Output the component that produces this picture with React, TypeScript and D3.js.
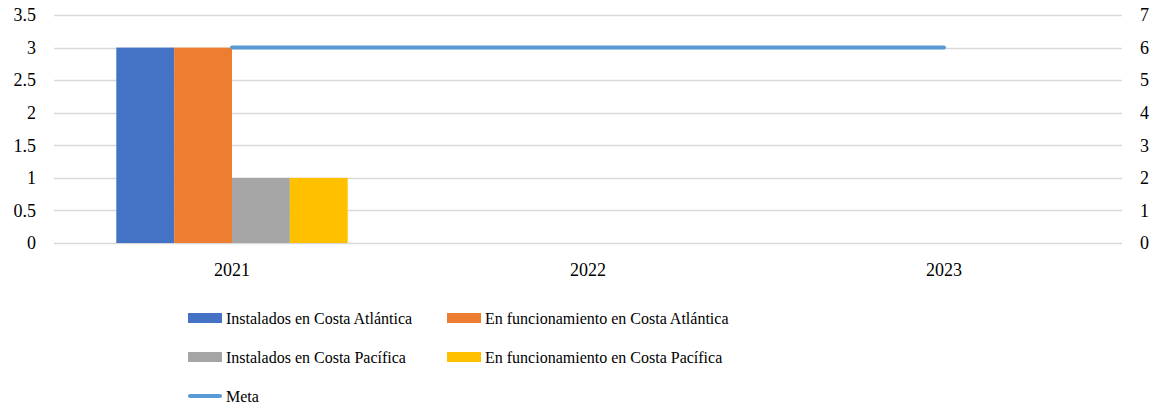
import React, { useEffect, useRef } from 'react';
import * as d3 from 'd3';

const years = ['2021', '2022', '2023'];
const seriesNames = [
  'Instalados en Costa Atlántica',
  'En funcionamiento en Costa Atlántica',
  'Instalados en Costa Pacífica',
  'En funcionamiento en Costa Pacífica',
];
const seriesColors = ['#4472C4', '#ED7D31', '#A5A5A5', '#FFC000'];
// values per series, per year (only 2021 has data)
const instaladosAtlantica = [3, null, null];
const funcionamientoAtlantica = [3, null, null];
const instaladosPacifica = [1, null, null];
const funcionamientoPacifica = [1, null, null];
const meta = [6, 6, 6];
const leftTicks = [0, 0.5, 1, 1.5, 2, 2.5, 3, 3.5];
const rightTicks = [0, 1, 2, 3, 4, 5, 6, 7];

const App = () => {
  const svgRef = useRef<SVGSVGElement>(null);

  useEffect(() => {
    const W = 1156;
    const H = 409;
    const svg = d3.select(svgRef.current);
    svg.selectAll('*').remove();
    svg.attr('width', W).attr('height', H)
      .style('font-family', "'Liberation Serif', 'Times New Roman', serif")
      .style('font-size', '18px');

    const left = 54, right = 1122, top = 15, bottom = 243;

    const x = d3.scaleBand().domain(years).range([left, right]).paddingInner(0).paddingOuter(0);
    const yL = d3.scaleLinear().domain([0, 3.5]).range([bottom, top]);
    const yR = d3.scaleLinear().domain([0, 7]).range([bottom, top]);

    // Gridlines
    svg.append('g')
      .selectAll('line')
      .data(leftTicks)
      .enter()
      .append('line')
      .attr('x1', left)
      .attr('x2', right)
      .attr('y1', d => Math.round(yL(d)) + 0.5)
      .attr('y2', d => Math.round(yL(d)) + 0.5)
      .attr('stroke', '#d9d9d9')
      .attr('stroke-width', 1.5);

    // Bars
    const allSeries = [instaladosAtlantica, funcionamientoAtlantica, instaladosPacifica, funcionamientoPacifica];
    const groupWidth = x.bandwidth() * 0.65;
    const x1 = d3.scaleBand().domain(seriesNames).range([0, groupWidth]).padding(0);

    allSeries.forEach((vals, si) => {
      svg.append('g')
        .selectAll('rect')
        .data(years.map((yr, i) => ({ yr, v: vals[i] })).filter(d => d.v != null))
        .enter()
        .append('rect')
        .attr('x', d => x(d.yr)! + (x.bandwidth() - groupWidth) / 2 + x1(seriesNames[si])!)
        .attr('y', d => yL(d.v as number))
        .attr('width', x1.bandwidth())
        .attr('height', d => bottom - yL(d.v as number))
        .attr('fill', seriesColors[si]);
    });

    // Meta line (secondary axis)
    const line = d3.line<number>()
      .x((_, i) => x(years[i])! + x.bandwidth() / 2)
      .y(d => yR(d));
    svg.append('path')
      .datum(meta)
      .attr('d', line)
      .attr('fill', 'none')
      .attr('stroke', '#5B9BD5')
      .attr('stroke-width', 4)
      .attr('stroke-linecap', 'round');

    // Left axis labels
    svg.append('g')
      .selectAll('text')
      .data(leftTicks)
      .enter()
      .append('text')
      .attr('x', 36)
      .attr('y', d => yL(d))
      .attr('dy', '0.35em')
      .attr('text-anchor', 'end')
      .attr('fill', '#000')
      .text(d => String(d));

    // Right axis labels
    svg.append('g')
      .selectAll('text')
      .data(rightTicks)
      .enter()
      .append('text')
      .attr('x', 1140)
      .attr('y', d => yR(d))
      .attr('dy', '0.35em')
      .attr('text-anchor', 'start')
      .attr('fill', '#000')
      .text(d => String(d));

    // Category labels
    svg.append('g')
      .selectAll('text')
      .data(years)
      .enter()
      .append('text')
      .attr('x', d => x(d)! + x.bandwidth() / 2)
      .attr('y', 270)
      .attr('dy', '0.35em')
      .attr('text-anchor', 'middle')
      .text(d => d);

    // Legend
    const legendItems = [
      { name: seriesNames[0], color: seriesColors[0], x: 188, y: 318, type: 'rect' },
      { name: seriesNames[1], color: seriesColors[1], x: 447, y: 318, type: 'rect' },
      { name: seriesNames[2], color: seriesColors[2], x: 188, y: 357, type: 'rect' },
      { name: seriesNames[3], color: seriesColors[3], x: 447, y: 357, type: 'rect' },
      { name: 'Meta', color: '#5B9BD5', x: 188, y: 396, type: 'line' },
    ];
    const lg = svg.append('g').style('font-size', '16px');
    legendItems.forEach(item => {
      if (item.type === 'rect') {
        lg.append('rect')
          .attr('x', item.x)
          .attr('y', item.y - 5)
          .attr('width', 34)
          .attr('height', 10)
          .attr('fill', item.color);
      } else {
        lg.append('line')
          .attr('x1', item.x + 2)
          .attr('x2', item.x + 32)
          .attr('y1', item.y)
          .attr('y2', item.y)
          .attr('stroke', item.color)
          .attr('stroke-width', 4)
          .attr('stroke-linecap', 'round');
      }
      lg.append('text')
        .attr('x', item.x + 38)
        .attr('y', item.y)
        .attr('dy', '0.35em')
        .text(item.name);
    });
  }, []);

  return <svg ref={svgRef} style={{ position: 'absolute', left: 0, top: 0 }}></svg>;
};

export default App;
